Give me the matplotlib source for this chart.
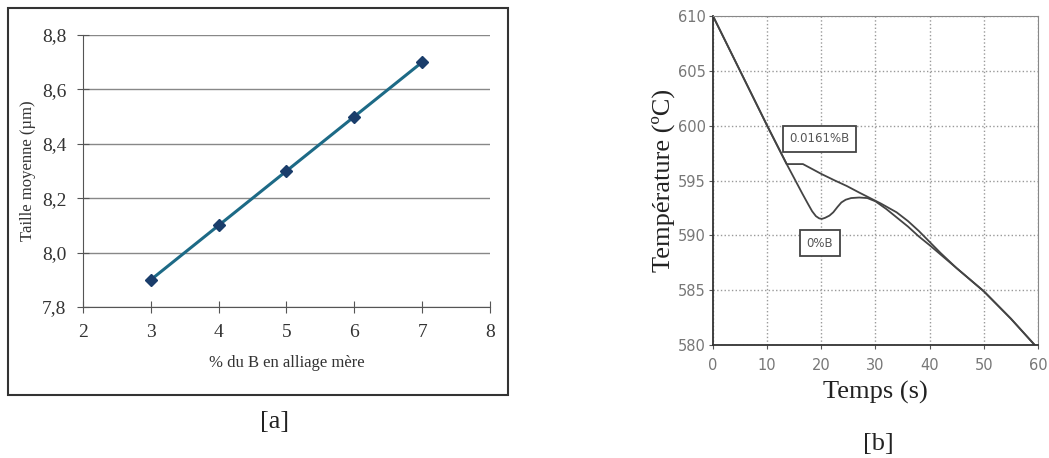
import matplotlib.pyplot as plt
from matplotlib.patches import Rectangle
from matplotlib.ticker import FuncFormatter

# [a] taille moyenne vs % B
pct_b = [3, 4, 5, 6, 7]
taille = [7.9, 8.1, 8.3, 8.5, 8.7]

# [b] cooling curves
t_0b = [0, 5, 10, 13.6, 15, 16.5, 17.5, 18.3, 19, 19.6, 20.1, 20.7, 21.5, 22.2, 23, 23.7, 24.5,
        25.5, 27, 28.5, 30, 32, 34, 36, 38, 40, 45, 50, 55, 59.4]
T_0b = [610, 605, 600, 596.5, 595.2, 593.8, 592.9, 592.2, 591.75, 591.55, 591.5, 591.6, 591.8,
        592.1, 592.6, 593.0, 593.25, 593.4, 593.45, 593.4, 593.1, 592.4, 591.6, 590.8, 589.9,
        589.1, 587.0, 584.9, 582.4, 580]
t_016b = [0, 5, 10, 13.6, 16.6, 18.5, 20, 22.5, 24.7, 27, 29, 31, 33.9, 36, 38, 39.4, 42, 45,
          50, 55, 59.4]
T_016b = [610, 605, 600, 596.5, 596.5, 596.0, 595.6, 595.0, 594.5, 593.9, 593.4, 592.9, 592.1,
          591.3, 590.4, 589.7, 588.4, 587.0, 584.9, 582.4, 580]

serif = 'Liberation Serif'

fig = plt.figure(figsize=(10.49, 4.58), dpi=100)

# outer frame around [a]
fig.patches.append(Rectangle((0.0076, 0.1376), 0.4767, 0.845, transform=fig.transFigure,
                             fill=False, edgecolor='#333333', linewidth=1.5))

ax1 = fig.add_axes([0.0791, 0.3297, 0.388, 0.594])
ax1.plot(pct_b, taille, color='#1d6a86', linewidth=2.2, marker='D', markersize=6,
         markerfacecolor='#1a3d6b', markeredgecolor='#1a3d6b', zorder=3)
ax1.set_xlim(2, 8)
ax1.set_ylim(7.8, 8.8)
ax1.set_yticks([7.8, 8.0, 8.2, 8.4, 8.6, 8.8])
ax1.yaxis.set_major_formatter(FuncFormatter(lambda v, p: f"{v:.1f}".replace('.', ',')))
ax1.grid(axis='y', color='#888888', linewidth=1)
ax1.set_axisbelow(True)
for s in ['top', 'right']:
    ax1.spines[s].set_visible(False)
for s in ['left', 'bottom']:
    ax1.spines[s].set_color('#555555')
ax1.tick_params(direction='inout', length=8, color='#555555', labelsize=14, pad=8)
for lab in ax1.get_xticklabels() + ax1.get_yticklabels():
    lab.set_family(serif)
    lab.set_color('#333333')
ax1.set_xlabel("% du B en alliage mère", family=serif, fontsize=12, color='#333333', labelpad=10)
ax1.set_ylabel("Taille moyenne (µm)", family=serif, fontsize=12, color='#333333', labelpad=4)
fig.text(0.262, 0.078, "[a]", family=serif, fontsize=19, ha='center', va='center', color='#222222')

ax2 = fig.add_axes([0.6797, 0.2467, 0.3098, 0.7183])
ax2.plot(t_016b, T_016b, color='#444444', linewidth=1.3)
ax2.plot(t_0b, T_0b, color='#444444', linewidth=1.3)
ax2.set_xlim(0, 60)
ax2.set_ylim(580, 610)
ax2.set_xticks(range(0, 61, 10))
ax2.set_yticks(range(580, 611, 5))
ax2.grid(color='#999999', linestyle=':', linewidth=1)
for s in ['top', 'right']:
    ax2.spines[s].set_color('#888888')
for s in ['left', 'bottom']:
    ax2.spines[s].set_color('#333333')
    ax2.spines[s].set_linewidth(1.3)
ax2.tick_params(length=3, labelsize=10.5, labelcolor='#777777', color='#555555')
ax2.tick_params(axis='x', pad=6)
ax2.tick_params(axis='y', pad=2)
ax2.set_xlabel("Temps (s)", family=serif, fontsize=19, color='#222222', labelpad=6)
ax2.set_ylabel("Température (ºC)", family=serif, fontsize=19, color='#222222', labelpad=2)
box = dict(boxstyle='square,pad=0.55', facecolor='white', edgecolor='#444444', linewidth=1.3)
ax2.text(19.6, 598.8, "0.0161%B", fontsize=8.5, color='#555555', ha='center', va='center', bbox=box)
ax2.text(19.7, 589.3, "0%B", fontsize=8.5, color='#555555', ha='center', va='center', bbox=box)
fig.text(0.837, 0.03, "[b]", family=serif, fontsize=19, ha='center', va='center', color='#222222')

plt.savefig("out.png", dpi=100)
